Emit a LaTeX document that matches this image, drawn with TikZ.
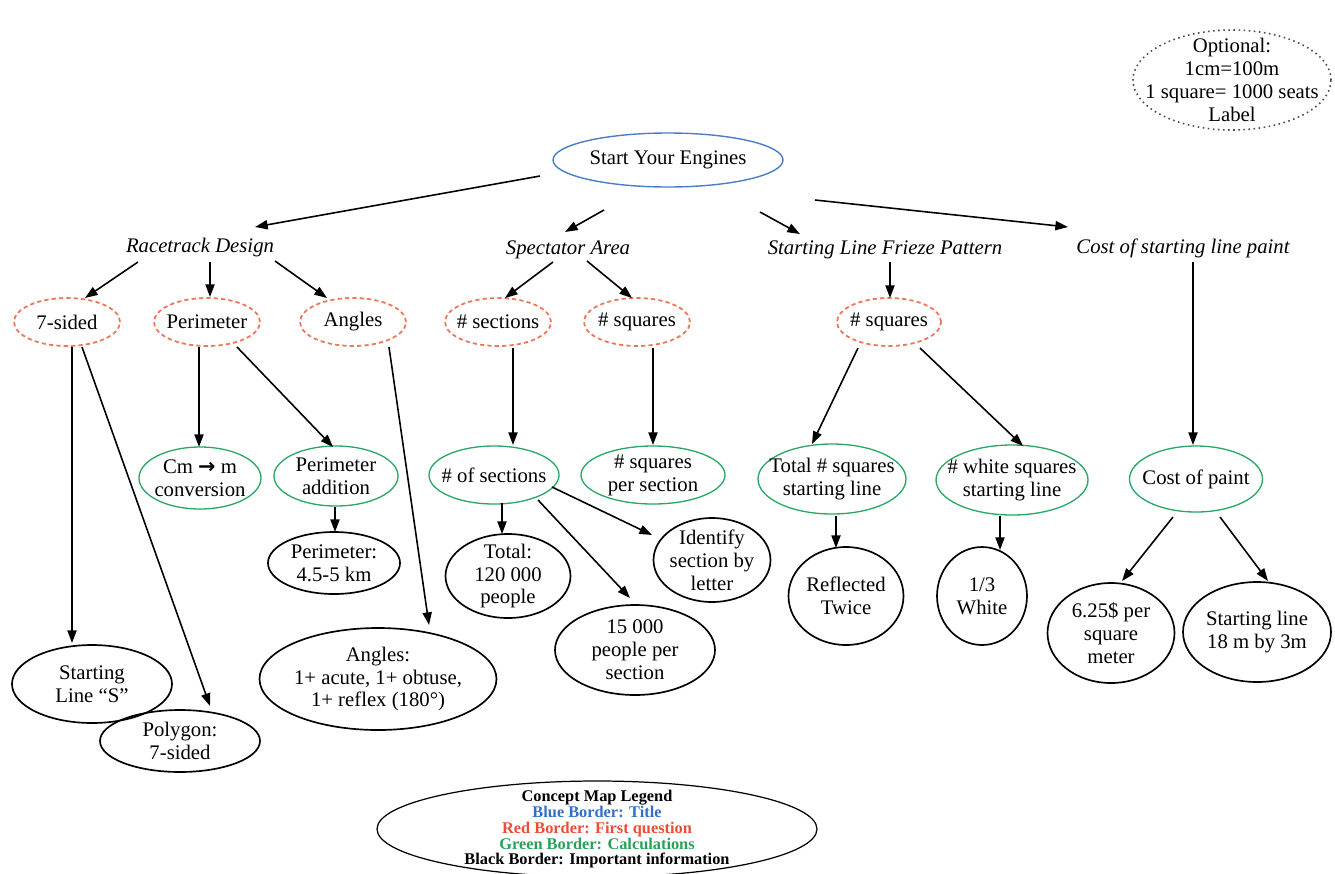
\documentclass[tikz,border=0pt]{standalone}
\usepackage{fontspec}
\setmainfont{Liberation Serif}
\newfontfamily\symfont{DejaVu Sans}
\usetikzlibrary{shapes.geometric,arrows.meta,calc}
\definecolor{tblue}{RGB}{74,126,200}
\definecolor{qred}{RGB}{238,118,88}
\definecolor{cgreen}{RGB}{40,168,100}
\definecolor{lblue}{RGB}{50,112,200}
\definecolor{lred}{RGB}{235,78,55}
\definecolor{lgreen}{RGB}{40,160,90}
\begin{document}
\begin{tikzpicture}[x=0.02cm,y=-0.02cm,
  every node/.style={font=\fontsize{11.8}{13}\selectfont, align=center},
  oval/.style 2 args={ellipse, inner sep=-40pt, minimum width=#1*0.02cm, minimum height=#2*0.02cm},
  titlebox/.style={draw=tblue, line width=0.8pt},
  askbox/.style={draw=qred, dash pattern=on 2.4pt off 1.8pt, line width=1pt},
  calcbox/.style={draw=cgreen, line width=0.75pt},
  infobox/.style={draw=black, line width=0.95pt},
  optbox/.style={draw=black!70, dotted, line width=0.9pt},
  topic/.style={font=\fontsize{11.8}{13}\selectfont\itshape, inner sep=2pt},
  arr/.style={-{Triangle[length=7.2pt,width=5.2pt]}, line width=0.9pt},
]
\useasboundingbox (0,0) rectangle (1335,873);

% title and side note
\node[oval={230}{54}, titlebox] (title) at (668,160) {Start Your Engines};
\node[oval={198}{100}, optbox] (opt) at (1232,80) {Optional:\\1cm=100m\\1 square= 1000 seats\\Label};

% topics
\node[topic] (rd) at (200,248) {Racetrack Design};
\node[topic] (sa) at (568,250) {Spectator Area};
\node[topic] (fz) at (885,250) {Starting Line Frieze Pattern};
\node[topic] (cs) at (1183,248) {Cost of starting line paint};

% first questions
\node[oval={106}{48}, askbox] (s7)  at (67,322)  {7-sided};
\node[oval={106}{48}, askbox] (per) at (207,322) {Perimeter};
\node[oval={106}{48}, askbox] (ang) at (353,322) {Angles};
\node[oval={106}{48}, askbox] (sec) at (498,322) {\# sections};
\node[oval={106}{48}, askbox] (sq)  at (637,322) {\# squares};
\node[oval={104}{48}, askbox] (fsq) at (889,322) {\# squares};

% calculations
\node[oval={122}{62}, calcbox] (cm)   at (200,478)  {Cm {\symfont\bfseries →} m\\conversion};
\node[oval={124}{60}, calcbox] (pad)  at (336,476)  {Perimeter\\addition};
\node[oval={130}{58}, calcbox] (nsec) at (494,475)  {\# of sections};
\node[oval={144}{58}, calcbox] (sps)  at (653,475)  {\# squares\\per section};
\node[oval={148}{70}, calcbox] (tot)  at (832,479)  {Total \# squares\\starting line};
\node[oval={152}{70}, calcbox] (wht)  at (1012,480) {\# white squares\\starting line};
\node[oval={133}{66}, calcbox] (cop)  at (1196,479) {Cost of paint};

% important information
\node[oval={132}{62}, infobox]  (pkm)  at (334,563)  {Perimeter:\\4.5-5 km};
\node[oval={237}{102}, infobox] (angi) at (378,679)  {Angles:\\1+ acute, 1+ obtuse,\\1+ reflex (180°)};
\node[oval={160}{78}, infobox]  (sls)  at (92,684)   {Starting\\Line “S”};
\node[oval={160}{62}, infobox]  (poly) at (180,741)  {Polygon:\\7-sided};
\node[oval={125}{84}, infobox]  (t120) at (508,576)  {Total:\\120 000\\people};
\node[oval={160}{90}, infobox]  (p15)  at (635,650)  {15 000\\people per\\section};
\node[oval={117}{84}, infobox]  (idf)  at (712,560)  {Identify\\section by\\letter};
\node[oval={115}{98}, infobox]  (rtw)  at (846,596)  {Reflected\\Twice};
\node[oval={90}{98}, infobox]   (wh3)  at (982,596)  {1/3\\White};
\node[oval={127}{100}, infobox] (d625) at (1111,633) {6.25\$ per\\square\\meter};
\node[oval={148}{100}, infobox] (sl18) at (1257,632) {Starting line\\18 m by 3m};

% legend
\node[oval={440}{96}, draw=black, line width=0.7pt,
      font=\fontsize{9.3}{8.9}\selectfont\bfseries] (leg) at (597,829)
  {Concept Map Legend\\[0.5pt]
   \textcolor{lblue}{Blue Border: Title}\\
   \textcolor{lred}{Red Border: First question}\\
   \textcolor{lgreen}{Green Border: Calculations}\\
   Black Border: Important information};

% connectors
\draw[arr] ($(title)+(-128,16)$) -- ($(rd)+(55,-21)$);
\draw[arr] ($(title)+(-64,50)$)  -- ($(sa)+(-3,-18)$);
\draw[arr] ($(title)+(92,52)$)   -- ($(fz)+(-85,-16)$);
\draw[arr] ($(title)+(147,40)$)  -- ($(cs)+(-115,-21)$);

\draw[arr] ($(rd)+(-62,14)$) -- ($(s7)+(18,-24)$);
\draw[arr] ($(rd)+(10,14)$)  -- ($(per)+(3,-25)$);
\draw[arr] ($(rd)+(75,13)$)  -- ($(ang)+(-26,-24)$);
\draw[arr] ($(sa)+(-15,12)$) -- ($(sec)+(7,-24)$);
\draw[arr] ($(sa)+(19,11)$)  -- ($(sq)+(-5,-24)$);
\draw[arr] ($(fz)+(5,12)$)   -- ($(fsq)+(1,-24)$);
\draw[arr] ($(cs)+(10,14)$)  -- ($(cop)+(-3,-34)$);

\draw[arr] ($(s7)+(5,25)$)   -- ($(sls)+(-20,-41)$);
\draw[arr] ($(s7)+(15,25)$)  -- ($(poly)+(30,-35)$);
\draw[arr] ($(per)+(-8,25)$) -- ($(cm)+(-1,-31)$);
\draw[arr] ($(per)+(30,25)$) -- ($(pad)+(-3,-29)$);
\draw[arr] ($(ang)+(36,25)$) -- ($(angi)+(51,-54)$);
\draw[arr] ($(sec)+(15,26)$) -- ($(nsec)+(19,-30)$);
\draw[arr] ($(sq)+(16,26)$)  -- ($(sps)+(0,-30)$);
\draw[arr] ($(fsq)+(-31,26)$) -- ($(tot)+(-20,-35)$);
\draw[arr] ($(fsq)+(31,26)$)  -- ($(wht)+(11,-34)$);
\draw[arr] ($(cop)+(-23,38)$) -- ($(d625)+(11,-52)$);
\draw[arr] ($(cop)+(24,38)$)  -- ($(sl18)+(11,-51)$);

\draw[arr] ($(pad)+(-1,31)$)  -- ($(pkm)+(1,-31)$);
\draw[arr] ($(nsec)+(8,28)$)  -- ($(t120)+(-6,-42)$);
\draw[arr] ($(nsec)+(44,25)$) -- ($(p15)+(-5,-52)$);
\draw[arr] ($(nsec)+(58,12)$) -- ($(idf)+(-60,-25)$);
\draw[arr] ($(tot)+(4,37)$)   -- ($(rtw)+(-10,-48)$);
\draw[arr] ($(wht)+(-12,36)$) -- ($(wh3)+(18,-46)$);
\end{tikzpicture}
\end{document}
